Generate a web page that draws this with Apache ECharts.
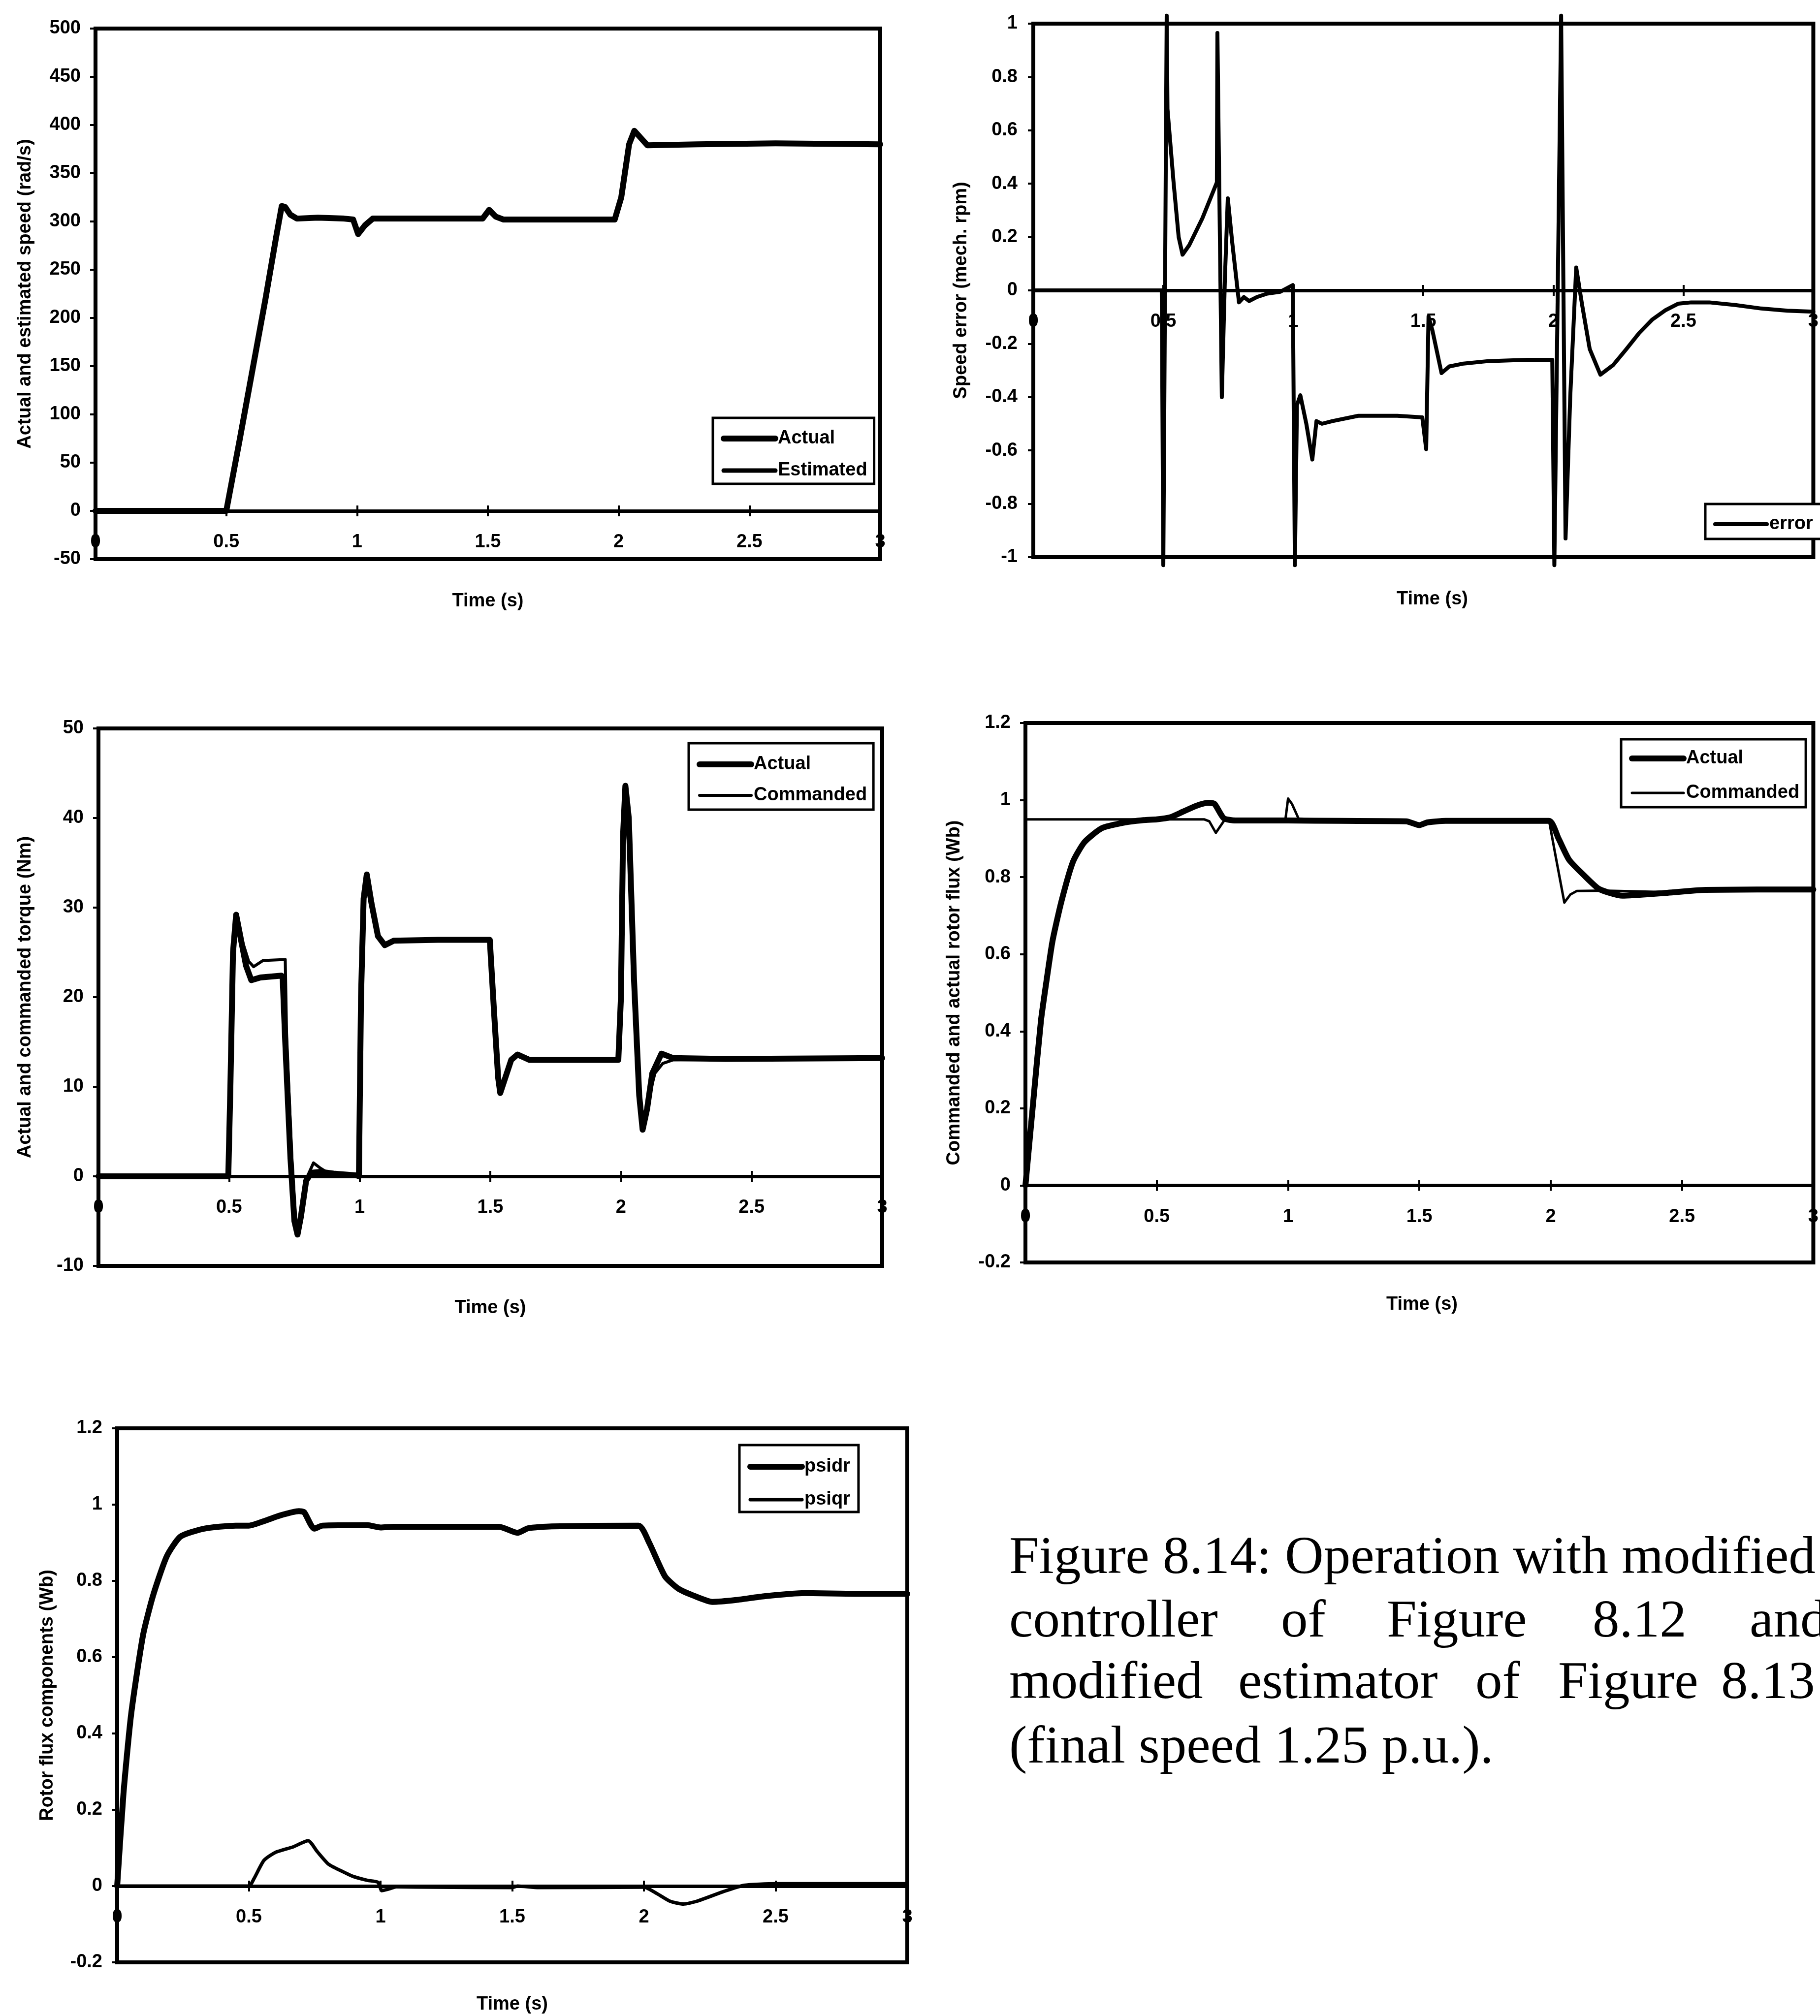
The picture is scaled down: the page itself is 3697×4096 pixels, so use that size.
<!DOCTYPE html>
<html>
<head>
<meta charset="utf-8">
<script src="https://cdn.jsdelivr.net/npm/echarts@6/dist/echarts.min.js"></script>
<style>
  html, body { margin: 0; padding: 0; background: #fff; }
  #chart { width: 3697px; height: 4096px; }
</style>
</head>
<body>
<div id="chart"></div>
<script>
// ---- Simulation traces: [time (s), value] ----
const speedActual = [
  [0, 0], [0.5, 0], [0.55, 72], [0.6, 146], [0.65, 220], [0.69, 283], [0.712, 316], [0.725, 315],
  [0.745, 307], [0.77, 303], [0.85, 304], [0.95, 303], [0.985, 302], [1.004, 287], [1.03, 296],
  [1.06, 303], [1.2, 303], [1.48, 303], [1.505, 312], [1.53, 305], [1.56, 302], [1.8, 302],
  [1.985, 302], [2.01, 325], [2.04, 380], [2.06, 394], [2.08, 388], [2.11, 379], [2.3, 380],
  [2.6, 381], [3, 380]
];
const speedEstimated = [
  [0, 0], [0.5, 0], [0.55, 72], [0.6, 146], [0.65, 220], [0.69, 283], [0.712, 316], [0.725, 315],
  [0.745, 307], [0.77, 303], [0.85, 304], [0.95, 303], [0.985, 302], [1.004, 287], [1.03, 296],
  [1.06, 303], [1.2, 303], [1.48, 303], [1.505, 312], [1.53, 305], [1.56, 302], [1.8, 302],
  [1.985, 302], [2.01, 325], [2.04, 380], [2.06, 394], [2.08, 388], [2.11, 379], [2.3, 380],
  [2.6, 381], [3, 380]
];
const speedError = [
  [0, 0], [0.494, 0], [0.5, -1.03], [0.513, 1.03], [0.516, 0.68], [0.539, 0.41], [0.559, 0.2],
  [0.574, 0.134], [0.6, 0.17], [0.65, 0.27], [0.706, 0.405], [0.708, 0.965], [0.725, -0.4],
  [0.737, 0.05], [0.748, 0.345], [0.765, 0.18], [0.791, -0.045], [0.81, -0.025], [0.83, -0.04],
  [0.86, -0.025], [0.9, -0.012], [0.95, -0.005], [0.998, 0.02], [1.006, -1.03], [1.014, -0.43],
  [1.027, -0.393], [1.05, -0.5], [1.073, -0.634], [1.089, -0.49], [1.11, -0.5], [1.15, -0.49],
  [1.25, -0.47], [1.4, -0.47], [1.496, -0.476], [1.511, -0.595], [1.52, -0.098], [1.535, -0.15],
  [1.57, -0.31], [1.6, -0.285], [1.65, -0.275], [1.75, -0.265], [1.9, -0.26], [1.996, -0.26],
  [2.004, -1.03], [2.03, 1.03], [2.047, -0.93], [2.065, -0.4], [2.088, 0.086], [2.11, -0.05],
  [2.14, -0.22], [2.181, -0.316], [2.23, -0.28], [2.281, -0.22], [2.33, -0.16], [2.38, -0.11],
  [2.43, -0.075], [2.48, -0.05], [2.53, -0.045], [2.6, -0.045], [2.7, -0.055], [2.8, -0.068],
  [2.9, -0.076], [3, -0.08]
];
const torqueActual = [
  [0, 0], [0.497, 0], [0.505, 10], [0.515, 25], [0.527, 29.2], [0.545, 26.5], [0.565, 23.5],
  [0.585, 21.9], [0.62, 22.2], [0.7, 22.4], [0.705, 22.3], [0.715, 15], [0.735, 2], [0.75, -5],
  [0.762, -6.5], [0.775, -4.5], [0.795, -0.5], [0.815, 0.4], [0.85, 0.5], [0.9, 0.3], [0.99, 0.1],
  [0.997, 0], [1.005, 20], [1.015, 31], [1.027, 33.7], [1.045, 30.5], [1.07, 26.8], [1.096, 25.8],
  [1.13, 26.3], [1.3, 26.4], [1.498, 26.4], [1.515, 18], [1.53, 11], [1.538, 9.3], [1.555, 10.8],
  [1.58, 13], [1.604, 13.6], [1.65, 13], [1.8, 13], [1.99, 13], [2, 20], [2.008, 38], [2.017, 43.6],
  [2.03, 40], [2.05, 22], [2.07, 9], [2.083, 5.2], [2.1, 7.5], [2.12, 11.5], [2.155, 13.7],
  [2.2, 13.2], [2.4, 13.1], [3, 13.2]
];
const torqueCommanded = [
  [0, 0], [0.497, 0], [0.505, 12], [0.515, 26], [0.527, 29], [0.545, 26.8], [0.575, 24],
  [0.594, 23.4], [0.63, 24.1], [0.715, 24.2], [0.72, 16], [0.74, 2], [0.755, -5], [0.765, -6],
  [0.78, -3], [0.8, 0], [0.823, 1.5], [0.85, 0.9], [0.88, 0.35], [0.95, 0.15], [0.997, 0.1],
  [1.005, 20], [1.015, 31], [1.027, 33.5], [1.045, 30], [1.07, 26.6], [1.096, 25.9], [1.13, 26.3],
  [1.3, 26.4], [1.498, 26.4], [1.515, 18], [1.53, 11], [1.54, 9.5], [1.555, 10.8], [1.58, 13],
  [1.604, 13.4], [1.65, 13], [1.99, 13], [2, 20], [2.01, 36], [2.022, 40], [2.035, 36], [2.05, 22],
  [2.07, 9.5], [2.085, 5.8], [2.1, 8], [2.13, 11.5], [2.16, 12.6], [2.2, 13], [3, 13.1]
];
const fluxActual = [
  [0, 0], [0.03, 0.22], [0.059, 0.427], [0.08, 0.53], [0.103, 0.634], [0.137, 0.737],
  [0.181, 0.84], [0.225, 0.891], [0.291, 0.927], [0.38, 0.942], [0.45, 0.948], [0.5, 0.95],
  [0.55, 0.955], [0.6, 0.97], [0.65, 0.985], [0.695, 0.993], [0.72, 0.99], [0.755, 0.953],
  [0.8, 0.947], [1, 0.947], [1.2, 0.946], [1.45, 0.945], [1.5, 0.935], [1.53, 0.942],
  [1.6, 0.946], [1.994, 0.946], [2.03, 0.9], [2.07, 0.845], [2.128, 0.804], [2.185, 0.769],
  [2.273, 0.752], [2.418, 0.758], [2.59, 0.767], [3, 0.768]
];
const fluxCommanded = [
  [0, 0.95], [0.68, 0.95], [0.7, 0.945], [0.725, 0.915], [0.745, 0.935], [0.76, 0.95],
  [0.99, 0.95], [1, 1.004], [1.015, 0.99], [1.04, 0.952], [1.1, 0.947], [1.45, 0.945],
  [1.5, 0.935], [1.53, 0.943], [1.6, 0.946], [1.994, 0.946], [2.02, 0.85], [2.052, 0.734],
  [2.075, 0.755], [2.099, 0.764], [2.2, 0.765], [2.4, 0.762], [2.6, 0.767], [3, 0.768]
];
const psiDr = [
  [0, 0], [0.024, 0.243], [0.053, 0.45], [0.098, 0.657], [0.136, 0.761], [0.188, 0.864],
  [0.24, 0.916], [0.33, 0.937], [0.45, 0.945], [0.5, 0.945], [0.55, 0.955], [0.62, 0.972],
  [0.69, 0.983], [0.71, 0.98], [0.748, 0.937], [0.78, 0.945], [0.95, 0.946], [1, 0.94],
  [1.05, 0.942], [1.45, 0.942], [1.52, 0.926], [1.56, 0.938], [1.65, 0.943], [1.98, 0.945],
  [2.02, 0.9], [2.08, 0.812], [2.13, 0.78], [2.19, 0.761], [2.26, 0.745], [2.35, 0.75],
  [2.46, 0.76], [2.61, 0.768], [2.8, 0.766], [3, 0.766]
];
const psiQr = [
  [0, 0], [0.5, 0], [0.52, 0.02], [0.557, 0.067], [0.6, 0.088], [0.669, 0.103], [0.725, 0.119],
  [0.76, 0.09], [0.803, 0.057], [0.85, 0.04], [0.893, 0.026], [0.95, 0.015], [0.99, 0.01],
  [1.005, -0.012], [1.03, -0.008], [1.06, -0.002], [1.2, -0.003], [1.5, -0.004], [1.52, 0],
  [1.6, -0.004], [2, -0.003], [2.05, -0.02], [2.1, -0.04], [2.15, -0.047], [2.2, -0.04],
  [2.3, -0.015], [2.38, 0.002], [2.5, 0.006], [3, 0.006]
];

// ---- Axis ranges: [min, max, step] ----
const timeAxis = [0, 3, 0.5];
const speedAxis = [-50, 500, 50];
const errorAxis = [-1, 1, 0.2];
const torqueAxis = [-10, 50, 10];
const fluxAxis = [-0.2, 1.2, 0.2];

// ---- Text ----
const yTitles = [
  'Actual and estimated speed (rad/s)',
  'Speed error (mech. rpm)',
  'Actual and commanded torque (Nm)',
  'Commanded and actual rotor flux (Wb)',
  'Rotor flux components (Wb)'
];
const xTitle = 'Time (s)';
const captionLine1 = 'Figure 8.14: Operation with modified';
const captionLine2 = ['controller', 'of', 'Figure', '8.12', 'and'];
const captionLine3 = ['modified', 'estimator', 'of', 'Figure', '8.13'];
const captionLine4 = '(final speed 1.25 p.u.).';

// ---- Layout ----
const INK = '#000';
const SANS = "'Liberation Sans', Arial, Helvetica, sans-serif";
const SERIF = "'Liberation Serif', 'Times New Roman', serif";
const FS = 38;

const panels = [
  { grid: { left: 194, top: 58, width: 1594, height: 1078 }, range: speedAxis, gap: 123, labelMargin: 30,
    legend: { left: 1448, top: 849, padding: [23, 14, 8, 16], itemGap: 27 },
    series: [
      { name: 'Estimated', data: speedEstimated, width: 5, key: 9 },
      { name: 'Actual', data: speedActual, width: 12 }
    ],
    legendOrder: ['Actual', 'Estimated'] },
  { grid: { left: 2099, top: 48, width: 1621, height: 1084 }, range: errorAxis, gap: 127, labelMargin: 32,
    legend: { left: 3464, top: 1024, padding: [22, 18, 11, 16], itemGap: 27 },
    series: [
      { name: 'error', data: speedError, width: 8, clip: false }
    ],
    legendOrder: ['error'] },
  { grid: { left: 200, top: 1480, width: 1592, height: 1092 }, range: torqueAxis, gap: 129, labelMargin: 30,
    legend: { left: 1399, top: 1510, padding: [24, 13, 10, 16], itemGap: 25 },
    series: [
      { name: 'Actual', data: torqueActual, width: 12 },
      { name: 'Commanded', data: torqueCommanded, width: 6 }
    ],
    legendOrder: ['Actual', 'Commanded'] },
  { grid: { left: 2083, top: 1469, width: 1611, height: 1096 }, range: fluxAxis, gap: 125, labelMargin: 30,
    legend: { left: 3293, top: 1502, padding: [20, 13, 10, 16], itemGap: 32 },
    series: [
      { name: 'Actual', data: fluxActual, width: 12, smooth: 0.2 },
      { name: 'Commanded', data: fluxCommanded, width: 5 }
    ],
    legendOrder: ['Actual', 'Commanded'] },
  { grid: { left: 238, top: 2902, width: 1605, height: 1085 }, range: fluxAxis, gap: 122, labelMargin: 30,
    legend: { left: 1502, top: 2936, padding: [25, 17, 6, 16], itemGap: 29 },
    series: [
      { name: 'psidr', data: psiDr, width: 12, smooth: 0.2 },
      { name: 'psiqr', data: psiQr, width: 7, smooth: 0.2 }
    ],
    legendOrder: ['psidr', 'psiqr'] }
];

const labelStyle = { color: INK, fontSize: FS, fontWeight: 'bold', fontFamily: SANS };

const option = {
  animation: false,
  backgroundColor: '#fff',
  grid: [], xAxis: [], yAxis: [], series: [], legend: [], graphic: []
};

panels.forEach((p, i) => {
  const g = p.grid;
  option.grid.push(Object.assign({
    show: true, borderColor: INK, borderWidth: 8, backgroundColor: 'transparent', containLabel: false
  }, g));

  // pixel distance of the value-0 line from the frame's top edge
  const zeroFromTop = g.height * p.range[1] / (p.range[1] - p.range[0]);

  // time axis drawn across the plot at value 0: labels and downward tick halves
  option.xAxis.push({
    gridIndex: i, type: 'value', min: timeAxis[0], max: timeAxis[1], interval: timeAxis[2],
    position: 'bottom', offset: -(g.height - zeroFromTop),
    axisLine: { show: true, onZero: false, lineStyle: { color: INK, width: 7 } },
    axisTick: { show: true, length: 11, lineStyle: { color: INK, width: 4 } },
    axisLabel: Object.assign({ margin: 45, showMinLabel: true, showMaxLabel: true }, labelStyle),
    splitLine: { show: false }
  });
  // companion axis giving the upward tick halves
  option.xAxis.push({
    gridIndex: i, type: 'value', min: timeAxis[0], max: timeAxis[1], interval: timeAxis[2],
    position: 'top', offset: -zeroFromTop,
    axisLine: { show: false, onZero: false },
    axisTick: { show: true, length: 11, lineStyle: { color: INK, width: 4 } },
    axisLabel: { show: false },
    splitLine: { show: false }
  });

  option.yAxis.push({
    gridIndex: i, type: 'value', min: p.range[0], max: p.range[1], interval: p.range[2],
    axisLine: { show: true, onZero: false, lineStyle: { color: INK, width: 8 } },
    axisTick: { show: true, length: 11, lineStyle: { color: INK, width: 4 } },
    axisLabel: Object.assign({ margin: p.labelMargin }, labelStyle),
    splitLine: { show: false },
    name: yTitles[i], nameLocation: 'middle', nameRotate: 90, nameGap: p.gap,
    nameTextStyle: { color: INK, fontSize: 38, fontWeight: 'bold', fontFamily: SANS }
  });

  p.series.forEach((s) => {
    option.series.push({
      type: 'line', name: s.name, xAxisIndex: 2 * i, yAxisIndex: i,
      data: s.data, symbol: 'none', showSymbol: false,
      smooth: s.smooth || false,
      clip: s.clip !== undefined ? s.clip : true,
      lineStyle: { color: INK, width: s.width, join: 'round', cap: 'round' },
      itemStyle: { color: INK },
      z: 3
    });
  });

  const keyWidth = {};
  p.series.forEach(s => { keyWidth[s.name] = s.key || s.width; });

  // itemHeight kept tiny so the key shows only the line sample
  option.legend.push({
    orient: 'vertical', left: p.legend.left, top: p.legend.top,
    padding: p.legend.padding, itemGap: p.legend.itemGap,
    itemWidth: 105, itemHeight: 4,
    borderColor: INK, borderWidth: 5, backgroundColor: '#fff',
    selectedMode: false,
    textStyle: { color: INK, fontSize: FS, fontWeight: 'bold', fontFamily: SANS },
    data: p.legendOrder.map(n => ({
      name: n,
      lineStyle: { color: INK, width: keyWidth[n] },
      itemStyle: { color: INK, opacity: 0 }
    }))
  });

  // x-axis title below the frame
  option.graphic.push({
    type: 'text', x: g.left + g.width / 2, y: g.top + g.height + 86,
    style: { text: xTitle, fill: INK, fontSize: 38, fontWeight: 'bold', fontFamily: SANS,
             align: 'center', verticalAlign: 'middle' }
  });
});

// caption block (lines 2 and 3 are justified word by word)
const capFont = { fill: INK, fontSize: 109, fontFamily: SERIF, align: 'left', verticalAlign: 'middle' };
const capLeft = 2050;
const capRows = [3167, 3296, 3421, 3552];
const line2X = [2050, 2602, 2817, 3235, 3554];
const line3X = [2050, 2515, 2997, 3165, 3496];
option.graphic.push({ type: 'text', x: capLeft, y: capRows[0], style: Object.assign({ text: captionLine1 }, capFont) });
captionLine2.forEach((w, k) => option.graphic.push({ type: 'text', x: line2X[k], y: capRows[1], style: Object.assign({ text: w }, capFont) }));
captionLine3.forEach((w, k) => option.graphic.push({ type: 'text', x: line3X[k], y: capRows[2], style: Object.assign({ text: w }, capFont) }));
option.graphic.push({ type: 'text', x: capLeft, y: capRows[3], style: Object.assign({ text: captionLine4 }, capFont) });

const chart = echarts.init(document.getElementById('chart'), null, { renderer: 'canvas' });
chart.setOption(option);
</script>
</body>
</html>
